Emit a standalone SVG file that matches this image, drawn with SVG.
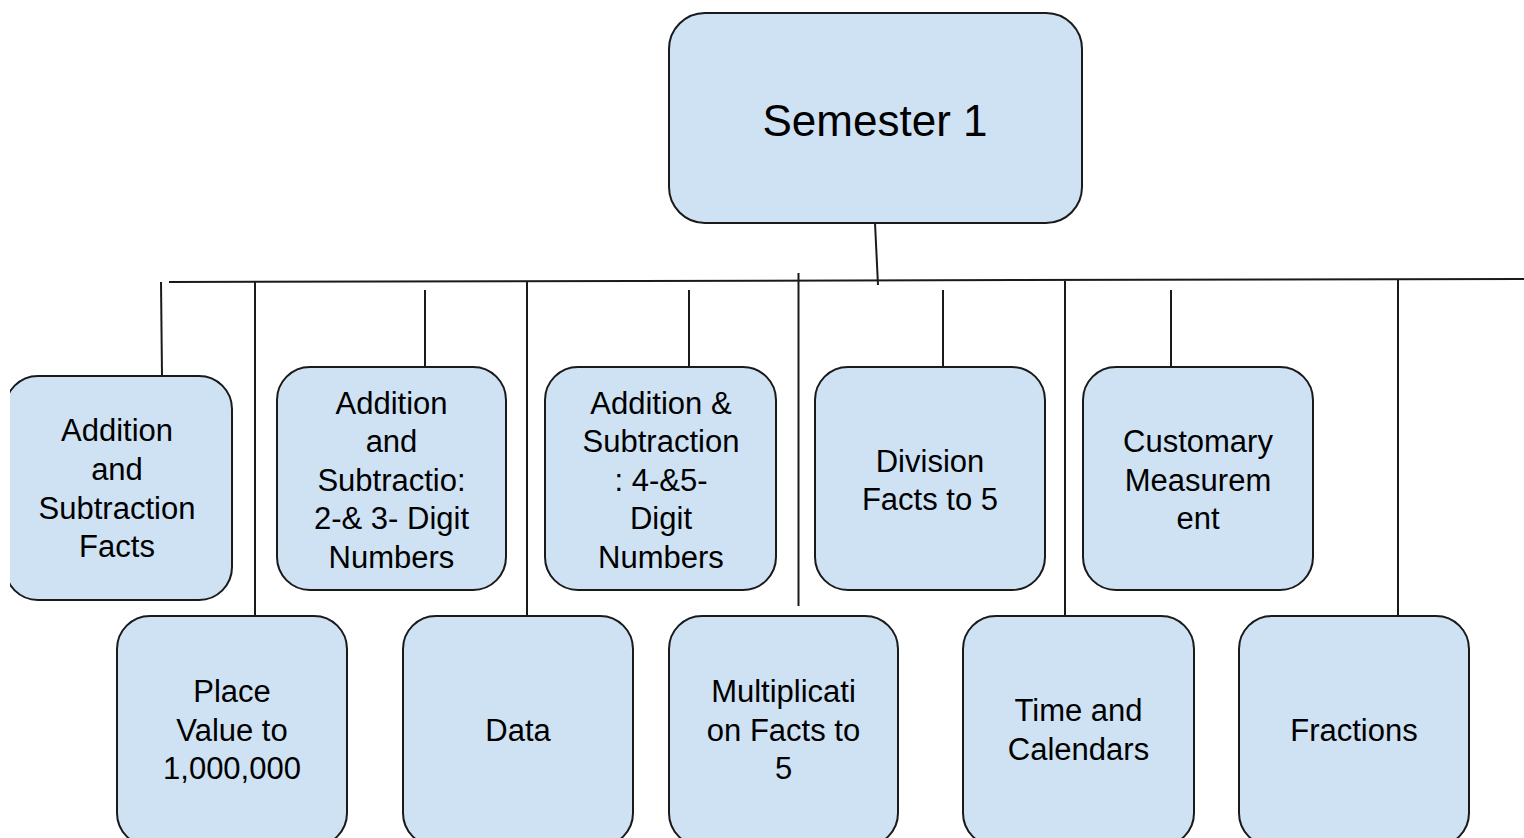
<svg xmlns="http://www.w3.org/2000/svg" width="1524" height="838" viewBox="0 0 1524 838">
<style>
.box{fill:#cfe2f3;stroke:#1a1a1a;stroke-width:2}
.c{stroke:#1a1a1a;stroke-width:2;fill:none}
text{font-family:"Liberation Sans",Arial,sans-serif;font-size:31px;fill:#000;text-anchor:middle}
.big{font-size:44px}
</style>
<rect width="1524" height="838" fill="#fff"/>
<g id="connectors">
<line class="c" x1="875" y1="223" x2="878" y2="285"/>
<line class="c" x1="169" y1="282" x2="1524" y2="279"/>
<line class="c" x1="161" y1="282" x2="162" y2="376"/>
<line class="c" x1="255" y1="282" x2="255" y2="616"/>
<line class="c" x1="425" y1="290" x2="425" y2="367"/>
<line class="c" x1="527" y1="282" x2="527" y2="616"/>
<line class="c" x1="689" y1="290" x2="689" y2="367"/>
<line class="c" x1="798.5" y1="273" x2="798.5" y2="606"/>
<line class="c" x1="943" y1="290" x2="943" y2="367"/>
<line class="c" x1="1065" y1="281" x2="1065" y2="616"/>
<line class="c" x1="1171" y1="290" x2="1171" y2="367"/>
<line class="c" x1="1398" y1="280" x2="1398" y2="616"/>
</g>
<g id="semester1">
<rect class="box" x="669" y="13" width="413" height="210" rx="36"/>
<text class="big" x="875" y="136">Semester 1</text>
</g>
<g id="addsubfacts">
<rect class="box" x="5" y="376" width="227" height="224" rx="33"/>
<rect x="0" y="360" width="10" height="250" fill="#fff"/>
<text x="117" y="441">Addition</text>
<text x="117" y="480">and</text>
<text x="117" y="519">Subtraction</text>
<text x="117" y="557">Facts</text>
</g>
<g id="addsub23">
<rect class="box" x="277" y="367" width="229" height="223" rx="33"/>
<text x="391.5" y="414">Addition</text>
<text x="391.5" y="452">and</text>
<text x="391.5" y="491">Subtractio:</text>
<text x="391.5" y="529">2-&amp; 3- Digit</text>
<text x="391.5" y="568">Numbers</text>
</g>
<g id="addsub45">
<rect class="box" x="545" y="367" width="231" height="223" rx="33"/>
<text x="661" y="414">Addition &amp;</text>
<text x="661" y="452">Subtraction</text>
<text x="661" y="491">: 4-&amp;5-</text>
<text x="661" y="529">Digit</text>
<text x="661" y="568">Numbers</text>
</g>
<g id="division">
<rect class="box" x="815" y="367" width="230" height="223" rx="33"/>
<text x="930" y="472">Division</text>
<text x="930" y="510">Facts to 5</text>
</g>
<g id="customary">
<rect class="box" x="1083" y="367" width="230" height="223" rx="33"/>
<text x="1198" y="452">Customary</text>
<text x="1198" y="491">Measurem</text>
<text x="1198" y="529">ent</text>
</g>
<g id="placevalue">
<rect class="box" x="117" y="616" width="230" height="230" rx="33"/>
<text x="232" y="702">Place</text>
<text x="232" y="741">Value to</text>
<text x="232" y="779">1,000,000</text>
</g>
<g id="data">
<rect class="box" x="403" y="616" width="230" height="230" rx="33"/>
<text x="518" y="741">Data</text>
</g>
<g id="multiplication">
<rect class="box" x="669" y="616" width="229" height="230" rx="33"/>
<text x="783.5" y="702">Multiplicati</text>
<text x="783.5" y="741">on Facts to</text>
<text x="783.5" y="779">5</text>
</g>
<g id="time">
<rect class="box" x="963" y="616" width="231" height="230" rx="33"/>
<text x="1078.5" y="721">Time and</text>
<text x="1078.5" y="760">Calendars</text>
</g>
<g id="fractions">
<rect class="box" x="1239" y="616" width="230" height="230" rx="33"/>
<text x="1354" y="741">Fractions</text>
</g>
</svg>
